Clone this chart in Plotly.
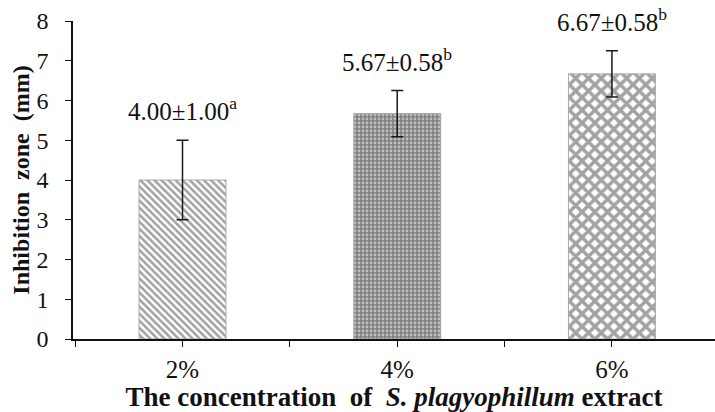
import plotly.graph_objects as go

categories = ["2%", "4%", "6%"]
means = [4.00, 5.67, 6.67]
sds = [1.00, 0.58, 0.58]
letters = ["a", "b", "b"]
y_ticks = [0, 1, 2, 3, 4, 5, 6, 7, 8]

FONT = "Liberation Serif, Times New Roman, serif"
x_pos = list(range(len(categories)))

patterns = [
    dict(shape="\\", fgcolor="#444444", bgcolor="white", size=5, solidity=0.5),
    dict(shape=".", fgcolor="white", bgcolor="#808080", size=4, solidity=0.38),
    dict(shape="x", fgcolor="#464646", bgcolor="white", size=9, solidity=0.62),
]

fig = go.Figure()
for i, c in enumerate(categories):
    fig.add_trace(go.Bar(
        x=[x_pos[i]], y=[means[i]], width=0.405,
        marker=dict(color="white", pattern=patterns[i],
                    line=dict(color="#a8a8a8", width=1)),
        error_y=dict(type="data", array=[sds[i]], visible=True,
                     color="#1a1a1a", thickness=1.5, width=6),
        showlegend=False, hoverinfo="skip",
    ))
    fig.add_annotation(
        x=x_pos[i], y=means[i] + sds[i], xref="x", yref="y",
        text=f"{means[i]:.2f}±{sds[i]:.2f}<sup>{letters[i]}</sup>",
        showarrow=False, yanchor="bottom", yshift=13,
        font=dict(family=FONT, size=25, color="#111"),
    )

fig.update_layout(
    width=715, height=412,
    margin=dict(l=73, r=0, t=21, b=73, autoexpand=False),
    paper_bgcolor="white", plot_bgcolor="white",
    font=dict(family=FONT, size=24, color="#111"),
    xaxis=dict(
        range=[-0.51, 2.48], tickmode="array", tickvals=x_pos, ticktext=categories,
        showline=True, linecolor="#111", linewidth=1.5,
        ticks="outside", ticklen=6, tickwidth=1.3, tickcolor="#111",
        tickfont=dict(family=FONT, size=25, color="#111"),
        minor=dict(tickmode="array", tickvals=[-0.5, 0.5, 1.5, 2.5], ticks="outside",
                   ticklen=6, tickwidth=1.3, tickcolor="#111", showgrid=False),
        showgrid=False, zeroline=False, ticklabelstandoff=1, automargin=False,
        title=dict(text="<b>The concentration\u00a0\u00a0of\u00a0\u00a0<i>S. plagyophillum</i> extract</b>",
                   font=dict(family=FONT, size=27, color="#111"), standoff=1),
    ),
    yaxis=dict(
        range=[0, 8], tickmode="array", tickvals=y_ticks,
        showline=True, linecolor="#111", linewidth=1.5,
        ticks="outside", ticklen=6, tickwidth=1.3, tickcolor="#111",
        showgrid=False, zeroline=False, ticklabelstandoff=12, automargin=False,
        title=dict(text="<b>Inhibition\u00a0\u00a0zone\u00a0\u00a0(mm)</b>",
                   font=dict(family=FONT, size=24, color="#111"), standoff=0),
    ),
)

fig.write_html("out.html", config={"displayModeBar": False},
               post_script="document.body.style.margin='0';")
